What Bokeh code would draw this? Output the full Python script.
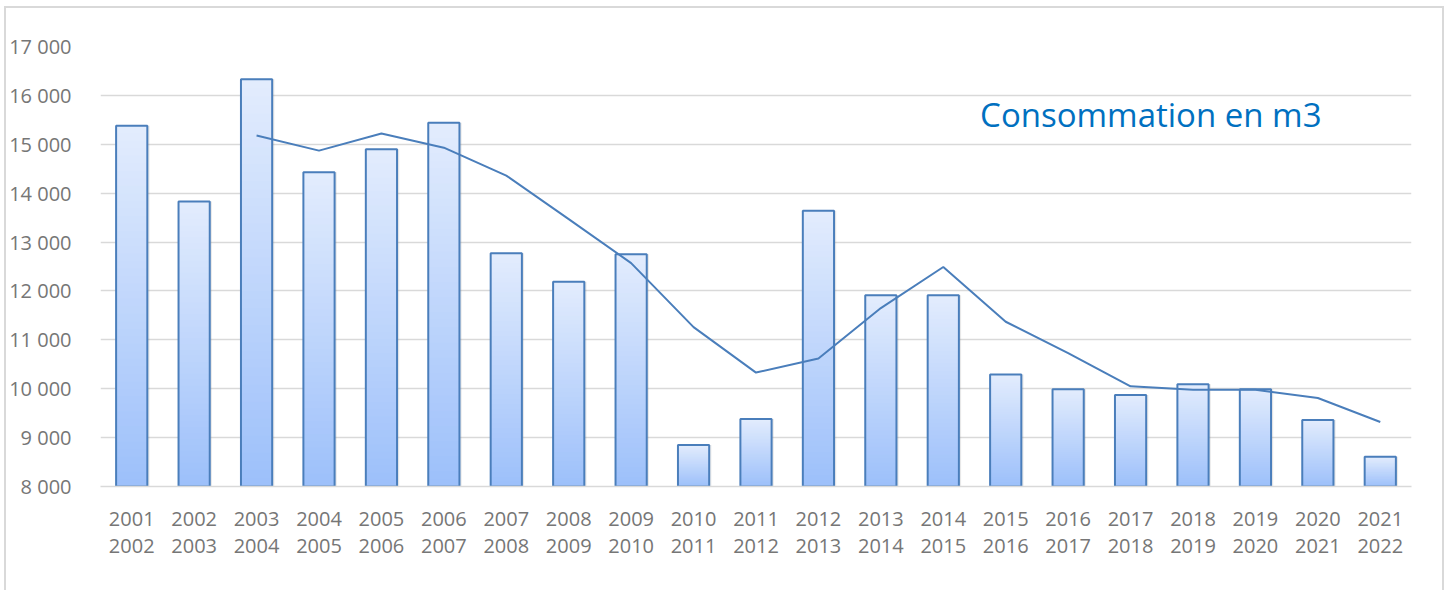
from bokeh.plotting import figure
from bokeh.models import FactorRange, Range1d, FixedTicker, Label
from bokeh.transform import dodge
from bokeh.embed import file_html
from bokeh.resources import INLINE

# Saisons (sept. -> août) et consommation d'eau en m3
saisons = [
    "2001\n2002", "2002\n2003", "2003\n2004", "2004\n2005", "2005\n2006",
    "2006\n2007", "2007\n2008", "2008\n2009", "2009\n2010", "2010\n2011",
    "2011\n2012", "2012\n2013", "2013\n2014", "2014\n2015", "2015\n2016",
    "2016\n2017", "2017\n2018", "2018\n2019", "2019\n2020", "2020\n2021",
    "2021\n2022",
]
consommation = [
    15380, 13830, 16330, 14430, 14900, 15440, 12770, 12190, 12750, 8850,
    9380, 13640, 11910, 11910, 10290, 9990, 9870, 10090, 9990, 9360, 8610,
]
# Moyenne mobile sur trois saisons (à partir de la troisième saison)
saisons_moyenne = saisons[2:]
moyenne_mobile = [
    15180, 14870, 15220, 14930, 14360, 13470, 12570, 11260, 10330, 10620,
    11650, 12490, 11370, 10730, 10050, 9980, 9980, 9810, 9320,
]
graduations = [8000, 9000, 10000, 11000, 12000, 13000, 14000, 15000, 16000, 17000]
etiquettes = ["8 000", "9 000", "10 000", "11 000", "12 000", "13 000",
              "14 000", "15 000", "16 000", "17 000"]
titre = "Consommation en m3"

FONT = "Open Sans"
BLEU = "#4A7EBB"
GRIS_TEXTE = "#767676"
GRILLE = "#D9D9D9"
LARGEUR = 0.5

p = figure(
    width=1436, height=582,
    x_range=FactorRange(*saisons, range_padding=0),
    y_range=Range1d(graduations[0], graduations[-1]),
    output_backend="svg", toolbar_location=None,
    min_border_left=92, min_border_right=31,
    min_border_top=38, min_border_bottom=104,
    margin=(8, 0, 0, 6),
    styles={"outline": "2px solid #D9D9D9"},
)
p.outline_line_color = None
p.background_fill_color = "white"
p.border_fill_color = "white"

base = graduations[0]
source = {"saison": saisons, "valeur": consommation}

# Ombre légère décalée vers la droite
p.vbar(x=dodge("saison", 0.035, range=p.x_range), bottom=base, top="valeur",
       source=source, width=LARGEUR, fill_color="#808080", fill_alpha=0.18,
       line_color=None)

# Barres en dégradé : du bleu soutenu en bas au bleu très clair en haut
haut = (226, 236, 253)
bas = (157, 192, 250)
n = 48
for k in range(n):
    t = k / (n - 1)
    couleur = "#%02x%02x%02x" % tuple(round(h + (b - h) * t) for h, b in zip(haut, bas))
    sommets = [base + (v - base) * (1 - k / n) for v in consommation]
    p.vbar(x=saisons, bottom=base, top=sommets, width=LARGEUR,
           fill_color=couleur, line_color=None)

# Contour des barres
p.vbar(x="saison", bottom=base, top="valeur", source=source, width=LARGEUR,
       fill_color=None, line_color=BLEU, line_width=2)

# Courbe de tendance
p.line(x=saisons_moyenne, y=moyenne_mobile, line_color=BLEU, line_width=2)

# Titre intégré au graphique
p.add_layout(Label(
    x=14.09, y=15615, text=titre,
    text_font=FONT, text_font_size="33px", text_color="#0070C0",
    text_baseline="alphabetic", text_align="left",
))

# Axes
p.yaxis.ticker = FixedTicker(ticks=graduations)
p.yaxis.major_label_overrides = {g: e for g, e in zip(graduations, etiquettes)}
p.yaxis.axis_line_color = None
p.yaxis.major_tick_line_color = None
p.yaxis.minor_tick_line_color = None
p.yaxis.major_label_standoff = 23
p.yaxis.major_label_text_font = FONT
p.yaxis.major_label_text_font_size = "20px"
p.yaxis.major_label_text_color = GRIS_TEXTE

p.xaxis.axis_line_color = GRILLE
p.xaxis.axis_line_width = 1.5
p.xaxis.major_tick_line_color = None
p.xaxis.major_label_standoff = 12
p.xaxis.major_label_text_font = FONT
p.xaxis.major_label_text_font_size = "20px"
p.xaxis.major_label_text_line_height = 1.03
p.xaxis.major_label_text_color = GRIS_TEXTE
p.xaxis.major_label_orientation = "horizontal"

p.xgrid.grid_line_color = None
p.ygrid.grid_line_color = GRILLE
p.ygrid.grid_line_width = 1.5

open("out.html", "w").write(file_html(p, INLINE))
